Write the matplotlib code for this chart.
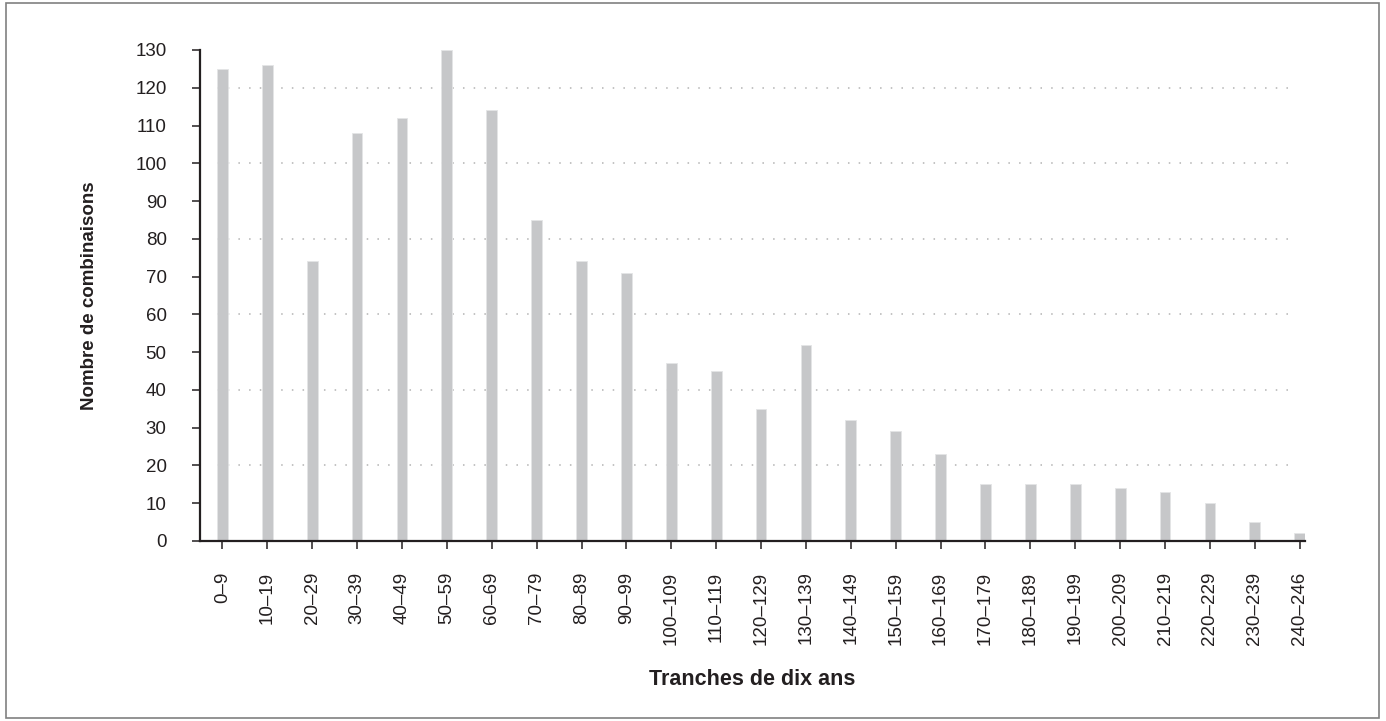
import numpy as np
import matplotlib
matplotlib.use('Agg')
from matplotlib import pyplot as plt
from matplotlib.patches import Rectangle

plt.rcParams['font.family'] = ['Liberation Sans', 'DejaVu Sans']

# Tranches de dix ans
categories = ['0\u20139', '10\u201319', '20\u201329', '30\u201339', '40\u201349', '50\u201359',
              '60\u201369', '70\u201379', '80\u201389', '90\u201399', '100\u2013109', '110\u2013119',
              '120\u2013129', '130\u2013139', '140\u2013149', '150\u2013159', '160\u2013169',
              '170\u2013179', '180\u2013189', '190\u2013199', '200\u2013209', '210\u2013219',
              '220\u2013229', '230\u2013239', '240\u2013246']
# Nombre de combinaisons
counts = [125, 126, 74, 108, 112, 130, 114, 85, 74, 71, 47, 45, 35, 52, 32, 29, 23,
          15, 15, 15, 14, 13, 10, 5, 2]
y_ticks = list(range(0, 131, 10))
grid_levels = [20, 40, 60, 80, 100, 120]

text_col = '#231f20'
bar_col = '#c6c7c9'

fig = plt.figure(figsize=(13.86, 7.21), dpi=100)
ax = fig.add_axes([0.1443, 0.2497, 0.7973, 0.681])

x = np.arange(len(categories))
ax.bar(x, counts, width=0.24, color=bar_col, edgecolor='#e4e5e6', linewidth=0.6, zorder=2)

for g in grid_levels:
    ax.axhline(g, xmin=0.015, xmax=0.985, color='#b3b3b3', linestyle=(0, (1, 6)),
               linewidth=1.1, zorder=1)

ax.set_xlim(-0.5, 24.12)
ax.set_ylim(0, 130)
ax.set_xticks(x)
ax.set_xticklabels(categories, rotation=90, fontsize=13.5, color=text_col)
ax.set_yticks(y_ticks)
ax.set_yticklabels([str(v) for v in y_ticks], fontsize=13.5, color=text_col)
ax.tick_params(axis='both', direction='out', length=6, width=1.1, color=text_col)
ax.tick_params(axis='x', pad=16)
ax.tick_params(axis='y', pad=18)

for s in ['top', 'right']:
    ax.spines[s].set_visible(False)
for s in ['left', 'bottom']:
    ax.spines[s].set_linewidth(1.6)
    ax.spines[s].set_color(text_col)

ax.set_xlabel('Tranches de dix ans', fontsize=15.5, fontweight='bold', color=text_col, labelpad=17)
ax.set_ylabel('Nombre de combinaisons', fontsize=13.5, fontweight='bold', color=text_col, labelpad=27)

# cadre autour de la figure
fig.patches.append(Rectangle((0.004, 0.004), 0.991, 0.992, transform=fig.transFigure,
                             fill=False, edgecolor='#808080', linewidth=1.2))

fig.savefig('out.png', dpi=100)
